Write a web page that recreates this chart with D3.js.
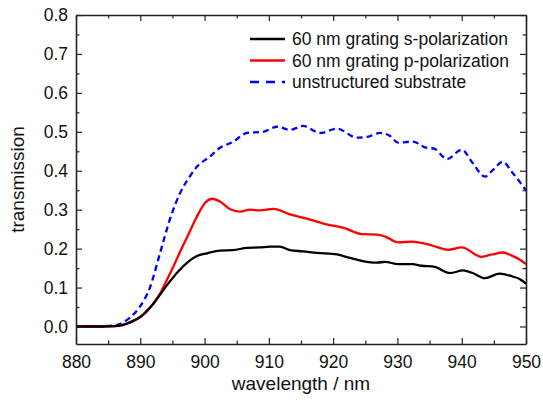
<!DOCTYPE html>
<html>
<head>
<meta charset="utf-8">
<script src="https://cdn.jsdelivr.net/npm/d3@7"></script>
<style>
  body { margin: 0; background: #fff; }
  svg { font-family: "Liberation Sans", Arial, sans-serif; }
</style>
</head>
<body>
<div id="chart"></div>
<script>
const W = 543, H = 408;

// wavelength (nm) / transmission
const sWave = [880, 884, 886, 887, 888, 889, 890, 891, 892, 893, 894, 895.1, 896, 897.3, 898.8, 900.4, 902.4, 904.4, 906.6, 908.6, 910.2, 911.7, 913.3, 915.3, 917.5, 920.6, 922.6, 924.6, 926.8, 928.1, 930.1, 932.3, 933.8, 935.8, 938.2, 940.2, 941.6, 943.6, 945.9, 947.8, 949, 950];
const sVal  = [0.0, 0.0, 0.001, 0.003, 0.008, 0.015, 0.024, 0.040, 0.058, 0.080, 0.103, 0.126, 0.143, 0.164, 0.181, 0.188, 0.195, 0.196, 0.202, 0.203, 0.205, 0.205, 0.196, 0.193, 0.189, 0.185, 0.176, 0.168, 0.164, 0.166, 0.160, 0.160, 0.156, 0.153, 0.137, 0.144, 0.138, 0.124, 0.136, 0.129, 0.122, 0.110];

const pWave = [880, 884, 886, 887, 888, 889, 890, 891, 892, 893.1, 894, 895.1, 896, 897.3, 898.8, 900.1, 901.2, 902.4, 904.0, 905.5, 907.1, 908.6, 910.7, 913.3, 915.9, 919.0, 921.5, 924.6, 926.8, 928.1, 930.1, 932.3, 935.4, 937.9, 940.0, 943.1, 944.7, 946.4, 947.8, 949, 950];
const pVal  = [0.0, 0.0, 0.001, 0.003, 0.008, 0.015, 0.025, 0.038, 0.058, 0.085, 0.115, 0.152, 0.185, 0.230, 0.282, 0.318, 0.328, 0.321, 0.301, 0.295, 0.300, 0.298, 0.302, 0.288, 0.277, 0.262, 0.254, 0.237, 0.236, 0.231, 0.216, 0.218, 0.208, 0.197, 0.203, 0.179, 0.185, 0.190, 0.182, 0.172, 0.160];

const uWave = [880, 884, 886, 886.8, 888.4, 889.95, 891.5, 893.1, 894.6, 896.2, 897.7, 898.8, 900.8, 902.4, 904.4, 906.6, 909.1, 911.3, 913.3, 915.3, 918.0, 920.6, 923.7, 925.3, 927.3, 928.8, 930.1, 932.4, 934.3, 935.8, 937.7, 940.0, 941.7, 943.6, 944.9, 946.4, 947.8, 949, 950];
const uVal  = [0.0, 0.001, 0.003, 0.006, 0.023, 0.051, 0.100, 0.190, 0.275, 0.343, 0.385, 0.410, 0.436, 0.459, 0.474, 0.497, 0.500, 0.513, 0.505, 0.515, 0.497, 0.508, 0.485, 0.487, 0.497, 0.490, 0.472, 0.475, 0.460, 0.456, 0.430, 0.454, 0.420, 0.385, 0.403, 0.423, 0.397, 0.372, 0.349];

const xTicks = [880, 890, 900, 910, 920, 930, 940, 950];
const yTicks = [0.0, 0.1, 0.2, 0.3, 0.4, 0.5, 0.6, 0.7, 0.8];

const seriesNames = ["60 nm grating s-polarization", "60 nm grating p-polarization", "unstructured substrate"];
const seriesColors = ["#000000", "#ff0000", "#0000ff"];

const margin = { top: 15, right: 17, bottom: 64, left: 76 },
    width = W - margin.left - margin.right,
    height = H - margin.top - margin.bottom;

const svg = d3.select("#chart").append("svg")
    .attr("width", W)
    .attr("height", H);

const g = svg.append("g")
    .attr("transform", `translate(${margin.left}, ${margin.top})`);

let x = d3.scaleLinear().domain([880, 950]).range([0, width]);
let y = d3.scaleLinear().domain([-0.045, 0.8]).range([height, 0]);

// the lines
const series = [
    { wave: sWave, val: sVal, color: seriesColors[0], dash: null },
    { wave: pWave, val: pVal, color: seriesColors[1], dash: null },
    { wave: uWave, val: uVal, color: seriesColors[2], dash: "6,4" }
];

const line = d3.line()
    .x(d => x(d[0]))
    .y(d => y(d[1]))
    .curve(d3.curveMonotoneX);

// draw substrate first, then p, then s on top like the reference
[2, 1, 0].forEach(i => {
    const s = series[i];
    g.append("path")
        .datum(s.wave.map((w, k) => [w, s.val[k]]))
        .attr("fill", "none")
        .attr("stroke", s.color)
        .attr("stroke-width", 2.3)
        .attr("stroke-dasharray", s.dash)
        .attr("d", line);
});

// axes: ticks point inward on all four sides
const minorX = d3.range(885, 950, 10);
const minorY = d3.range(0.05, 0.8, 0.1);

function styleAxis(sel) {
    sel.select(".domain").attr("stroke", "#222").attr("stroke-width", 1.6);
    sel.selectAll(".tick line").attr("stroke", "#222").attr("stroke-width", 1.2);
}

let xAxis = g.append("g")
    .attr("transform", `translate(0, ${height})`)
    .call(d3.axisBottom(x).tickValues(xTicks).tickSizeInner(-6).tickSizeOuter(0).tickPadding(12).tickFormat(d3.format("d")));
xAxis.call(styleAxis);
xAxis.selectAll("text").attr("font-size", 17.5).attr("fill", "#111");

g.append("g")
    .attr("transform", `translate(0, ${height})`)
    .call(d3.axisBottom(x).tickValues(minorX).tickSizeInner(-3.5).tickSizeOuter(0).tickFormat(""))
    .call(styleAxis)
    .select(".domain").remove();

let xTop = g.append("g")
    .call(d3.axisTop(x).tickValues(xTicks).tickSizeInner(-6).tickSizeOuter(0).tickFormat(""));
xTop.call(styleAxis);
g.append("g")
    .call(d3.axisTop(x).tickValues(minorX).tickSizeInner(-3.5).tickSizeOuter(0).tickFormat(""))
    .call(styleAxis)
    .select(".domain").remove();

let yAxis = g.append("g")
    .call(d3.axisLeft(y).tickValues(yTicks).tickSizeInner(-6).tickSizeOuter(0).tickPadding(8).tickFormat(d3.format(".1f")));
yAxis.call(styleAxis);
yAxis.selectAll("text").attr("font-size", 17.5).attr("fill", "#111");

g.append("g")
    .call(d3.axisLeft(y).tickValues(minorY).tickSizeInner(-3.5).tickSizeOuter(0).tickFormat(""))
    .call(styleAxis)
    .select(".domain").remove();

let yRight = g.append("g")
    .attr("transform", `translate(${width}, 0)`)
    .call(d3.axisRight(y).tickValues(yTicks).tickSizeInner(-6).tickSizeOuter(0).tickFormat(""));
yRight.call(styleAxis);
g.append("g")
    .attr("transform", `translate(${width}, 0)`)
    .call(d3.axisRight(y).tickValues(minorY).tickSizeInner(-3.5).tickSizeOuter(0).tickFormat(""))
    .call(styleAxis)
    .select(".domain").remove();

// axis titles
svg.append("text")
    .attr("x", margin.left + width / 2)
    .attr("y", 390)
    .attr("text-anchor", "middle")
    .attr("font-size", 19)
    .attr("fill", "#111")
    .text("wavelength / nm");

svg.append("text")
    .attr("transform", `translate(24, ${margin.top + height / 2}) rotate(-90)`)
    .attr("text-anchor", "middle")
    .attr("font-size", 19)
    .attr("fill", "#111")
    .text("transmission");

// legend
const legend = svg.append("g").attr("transform", "translate(250, 39)");
seriesNames.forEach((name, i) => {
    const row = legend.append("g").attr("transform", `translate(0, ${i * 21.5})`);
    row.append("line")
        .attr("x1", 0).attr("x2", 35)
        .attr("stroke", seriesColors[i])
        .attr("stroke-width", 2.3)
        .attr("stroke-dasharray", i === 2 ? "9,7" : null);
    row.append("text")
        .attr("x", 42)
        .attr("dy", "0.35em")
        .attr("font-size", 17.5)
        .attr("fill", "#111")
        .text(name);
});
</script>
</body>
</html>
